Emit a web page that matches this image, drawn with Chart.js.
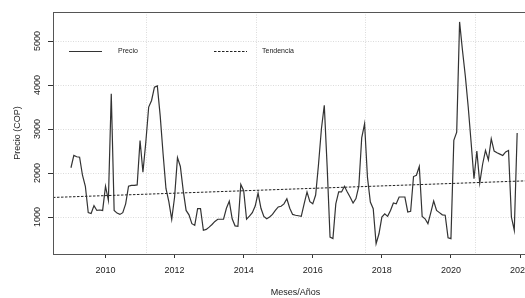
<!DOCTYPE html>
<html>
<head>
<meta charset="utf-8">
<script src="https://cdn.jsdelivr.net/npm/chart.js@4"></script>
<style>
  html, body { margin: 0; padding: 0; background: #fff; overflow: hidden; }
  #wrap { width: 560px; height: 298px; }
</style>
</head>
<body>
<div id="wrap"><canvas id="myChart"></canvas></div>
<script>
// monthly prices, Jan 2009 .. Dec 2021 (one row per year)
const firstYear = 2009;
const precio = [
  2120, 2400, 2370, 2360, 1950, 1700, 1100, 1080, 1260, 1150, 1160, 1150,
  1700, 1380, 3800, 1150, 1090, 1060, 1100, 1300, 1700, 1720, 1720, 1730,
  2740, 2020, 2700, 3500, 3650, 3950, 3980, 3300, 2440, 1650, 1350, 950,
  1455, 2350, 2150, 1600, 1150, 1050, 850, 810, 1190, 1190, 700, 720,
  770, 830, 900, 950, 950, 950, 1200, 1360, 960, 800, 790, 1740,
  1600, 950, 1020, 1100, 1250, 1545, 1200, 1015, 960, 1000, 1060, 1150,
  1230, 1245, 1300, 1415, 1200, 1060, 1040, 1030, 1015, 1300, 1570, 1350,
  1300, 1500, 2200, 3000, 3540, 2140, 545, 510, 1300, 1570, 1570, 1700,
  1570, 1450, 1320, 1420, 1700, 2800, 3120, 1900, 1340, 1190, 395, 620,
  1000, 1075, 1015, 1150, 1320, 1300, 1455, 1455, 1455, 1115, 1130, 1920,
  1950, 2150, 1015, 960, 850, 1100, 1365, 1150, 1100, 1050, 1040, 530,
  510, 2745, 2930, 5435, 4790, 4200, 3500, 2700, 1870, 2500, 1770, 2200,
  2515, 2300, 2780, 2500, 2460, 2430, 2400, 2480, 2515, 1000, 700, 2910
];
const trendYears = [2008.48, 2022.52];
const trendValues = [1445, 1832];
const yearTicks = [2010, 2012, 2014, 2016, 2018, 2020, 2022];
const priceTicks = [1000, 2000, 3000, 4000, 5000];
const gridYears = [2011.19, 2014.38, 2017.54, 2020.71];
const seriesLabels = ['Precio', 'Tendencia'];

const xMin = 2008.48, xMax = 2022.52;
const fontFamily = "'Liberation Sans', Arial, sans-serif";
const textColor = '#222';
const gridColor = 'rgba(0,0,0,0.14)';

// box around the plot, like R's box()
const framePlugin = {
  id: 'frame',
  afterDatasetsDraw(chart) {
    const { ctx, chartArea: a } = chart;
    ctx.save();
    ctx.strokeStyle = '#555';
    ctx.lineWidth = 1;
    ctx.strokeRect(a.left + 0.5, a.top + 0.5, a.right - a.left, a.bottom - a.top);
    ctx.restore();
  }
};

// legend drawn inside the plot, two items in a row
const insideLegend = {
  id: 'insideLegend',
  afterDraw(chart) {
    const { ctx } = chart;
    const items = [
      { x: 69, textX: 118 },
      { x: 214, textX: 262 }
    ];
    const y = 51.5;
    ctx.save();
    ctx.font = '7px ' + fontFamily;
    ctx.textBaseline = 'middle';
    chart.data.datasets.forEach((ds, i) => {
      const it = items[i];
      ctx.strokeStyle = ds.borderColor;
      ctx.lineWidth = 1;
      ctx.setLineDash(ds.borderDash || []);
      ctx.beginPath();
      ctx.moveTo(it.x, y);
      ctx.lineTo(it.x + 33, y);
      ctx.stroke();
      ctx.setLineDash([]);
      ctx.fillStyle = textColor;
      ctx.fillText(ds.label, it.textX, y);
    });
    ctx.restore();
  }
};

const ctx = document.getElementById('myChart').getContext('2d');
const chart = new Chart(ctx, {
  type: 'line',
  data: {
    datasets: [{
      label: seriesLabels[0],
      data: precio.map((v, i) => ({ x: firstYear + i / 12, y: v })),
      borderColor: '#333',
      borderWidth: 1.2,
      pointRadius: 0,
      tension: 0
    }, {
      label: seriesLabels[1],
      data: trendYears.map((x, i) => ({ x: x, y: trendValues[i] })),
      borderColor: '#222',
      borderWidth: 1,
      borderDash: [2.5, 1.5],
      pointRadius: 0
    }]
  },
  options: {
    responsive: true,
    maintainAspectRatio: false,
    animation: false,
    layout: { padding: { top: 12, right: 22, left: 0, bottom: 0 } },
    plugins: {
      legend: { display: false },
      tooltip: { enabled: false }
    },
    scales: {
      x: {
        type: 'linear',
        min: xMin,
        max: xMax,
        afterBuildTicks: s => { s.ticks = yearTicks.map(v => ({ value: v })); },
        afterFit: s => { s.height = 44; },
        ticks: {
          font: { family: fontFamily, size: 9 },
          color: textColor,
          padding: 7,
          maxRotation: 0,
          autoSkip: false,
          callback: v => String(v)
        },
        grid: {
          display: true,
          drawOnChartArea: false,
          drawTicks: true,
          tickLength: 4,
          tickColor: '#333',
          tickWidth: 1
        },
        border: { display: false },
        title: {
          display: true,
          text: 'Meses/Años',
          font: { family: fontFamily, size: 9 },
          color: textColor,
          padding: { top: 0, bottom: 0 }
        }
      },
      x2: {
        type: 'linear',
        position: 'top',
        min: xMin,
        max: xMax,
        afterBuildTicks: s => { s.ticks = gridYears.map(v => ({ value: v })); },
        afterFit: s => { s.height = 0; },
        ticks: { display: false },
        grid: { color: gridColor, drawTicks: false },
        border: { display: false, dash: [1, 1.5] }
      },
      y: {
        min: 160,
        max: 5660,
        afterBuildTicks: s => { s.ticks = priceTicks.map(v => ({ value: v })); },
        afterFit: s => { s.width = 53; },
        ticks: {
          font: { family: fontFamily, size: 9 },
          color: textColor,
          padding: 0,
          minRotation: 90,
          crossAlign: 'center',
          callback: v => String(v)
        },
        grid: {
          color: gridColor,
          drawTicks: true,
          tickLength: 5,
          tickColor: '#333',
          tickWidth: 1,
          tickBorderDash: []
        },
        border: { display: false, dash: [1, 1.5] },
        title: {
          display: true,
          text: 'Precio (COP)',
          font: { family: fontFamily, size: 9 },
          color: textColor,
          padding: { top: 12, bottom: 0 }
        }
      }
    }
  },
  plugins: [framePlugin, insideLegend]
});
</script>
</body>
</html>
